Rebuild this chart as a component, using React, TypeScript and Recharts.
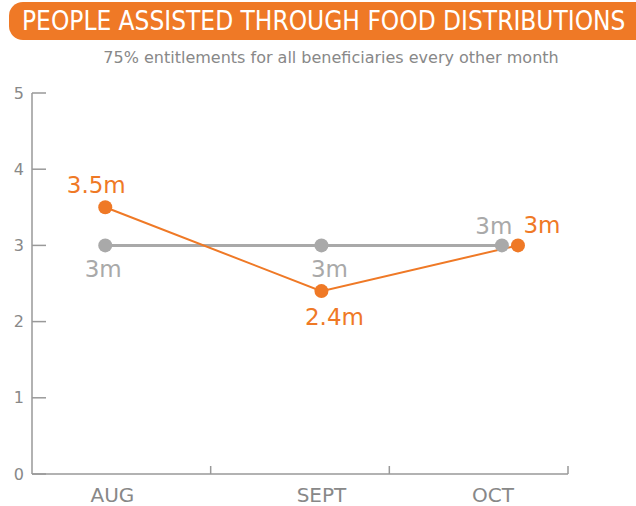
import { LineChart, Line, XAxis, YAxis, LabelList } from "recharts";

// month names and where they sit on the x scale (0..3, one unit per month)
const months = ["AUG", "SEPT", "OCT"];
const monthSlots = [0.45, 1.62, 2.58];
const bandEdges = [1, 2, 3];
const yTicks = [0, 1, 2, 3, 4, 5];

// grey series (planned), orange series (reached), millions
const grayX = [0.41, 1.62, 2.63];
const grayValues = [3, 3, 3];
const orangeX = [0.41, 1.62, 2.72];
const orangeValues = [3.5, 2.4, 3];

const grayData = grayX.map((x, i) => ({ x, v: grayValues[i] }));
const orangeData = orangeX.map((x, i) => ({ x, v: orangeValues[i] }));
const xTicks = [...monthSlots, ...bandEdges].sort((a, b) => a - b);

const ORANGE = "#EF7926";
const GREY = "#A9A9A9";
const AXIS = "#999";
const FONT = "Verdana, 'DejaVu Sans', sans-serif";

const fmt = (v: number) => `${v}m`;

const makeLabel = (color: string, offsets: number[][]) => (props: any) => {
  const { x, y, value, index } = props;
  const [dx, dy] = offsets[index] || [0, 0];
  return (
    <text
      x={x + dx}
      y={y + dy}
      fill={color}
      fontSize={23}
      fontFamily={FONT}
      textAnchor="middle"
      dominantBaseline="central"
    >
      {fmt(value)}
    </text>
  );
};

const grayLabel = makeLabel(GREY, [[-2, 24], [8, 24], [-8, -19]]);
const orangeLabel = makeLabel(ORANGE, [[-9, -22], [13, 26], [24, -20]]);

// band edges get a short inward tick, month slots get the name
const XTick = (props: any) => {
  const { x, y, payload } = props;
  const v = payload.value;
  if (bandEdges.includes(v)) {
    return <line x1={x} y1={y} x2={x} y2={y - 8} stroke={AXIS} strokeWidth={1.5} />;
  }
  return (
    <text
      x={x}
      y={y + 21}
      fill="#888"
      fontSize={20}
      fontFamily={FONT}
      textAnchor="middle"
      dominantBaseline="central"
    >
      {months[monthSlots.indexOf(v)]}
    </text>
  );
};

export default function App() {
  return (
    <div
      style={{
        position: "relative",
        width: 636,
        height: 506,
        overflow: "hidden",
      }}
    >
      <style>{"body{margin:0}"}</style>
      <div
        style={{
          position: "absolute",
          left: 9,
          top: 2,
          width: 680,
          height: 38,
          borderRadius: 14,
          background: ORANGE,
          color: "#fff",
          fontFamily: "'DejaVu Sans Condensed', sans-serif",
          fontSize: 26,
          lineHeight: "38px",
          paddingLeft: 13,
          boxSizing: "border-box",
          whiteSpace: "nowrap",
        }}
      >
        PEOPLE ASSISTED THROUGH FOOD DISTRIBUTIONS
      </div>
      <div
        style={{
          position: "absolute",
          left: 0,
          top: 48,
          width: 662,
          textAlign: "center",
          color: "#888",
          fontFamily: FONT,
          fontSize: 16,
          lineHeight: "20px",
          whiteSpace: "nowrap",
        }}
      >
        75% entitlements for all beneficiaries every other month
      </div>
      <div style={{ position: "absolute", left: 8, top: 70 }}>
        <LineChart
          width={620}
          height={436}
          margin={{ top: 23, right: 60, bottom: 0, left: 0 }}
        >
          <XAxis
            dataKey="x"
            type="number"
            domain={[0, 3]}
            ticks={xTicks}
            interval={0}
            tickSize={0}
            tickMargin={0}
            tickLine={false}
            tick={XTick}
            height={32}
            axisLine={{ stroke: AXIS, strokeWidth: 1.5 }}
          />
          <YAxis
            domain={[0, 5]}
            ticks={yTicks}
            width={24}
            tickSize={-14}
            tickMargin={22}
            axisLine={{ stroke: AXIS, strokeWidth: 1.5 }}
            tickLine={{ stroke: AXIS, strokeWidth: 1.5 }}
            tick={{ fill: "#888", fontSize: 16, fontFamily: FONT }}
            interval={0}
          />
          <Line
            data={grayData}
            dataKey="v"
            stroke={GREY}
            strokeWidth={3}
            dot={{ r: 7, fill: GREY, stroke: "none" }}
            activeDot={false}
            isAnimationActive={false}
          >
            <LabelList dataKey="v" content={grayLabel} />
          </Line>
          <Line
            data={orangeData}
            dataKey="v"
            stroke={ORANGE}
            strokeWidth={2}
            dot={{ r: 7, fill: ORANGE, stroke: "none" }}
            activeDot={false}
            isAnimationActive={false}
          >
            <LabelList dataKey="v" content={orangeLabel} />
          </Line>
        </LineChart>
      </div>
    </div>
  );
}
